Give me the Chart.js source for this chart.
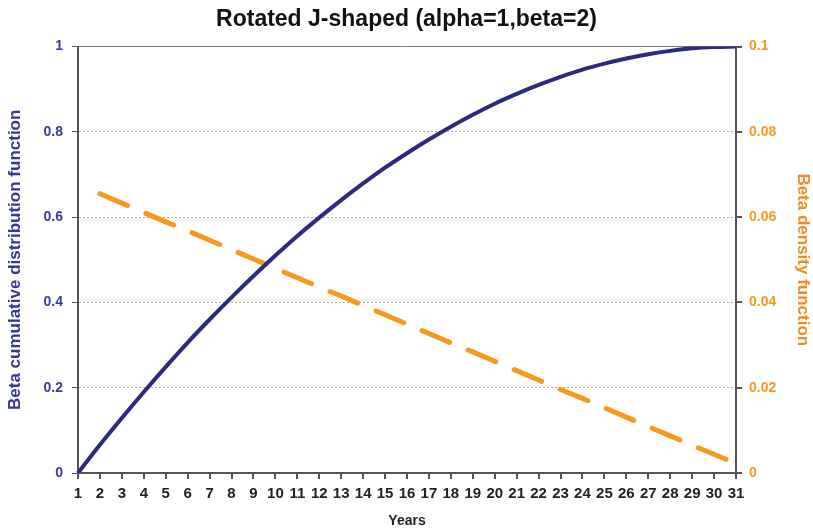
<!DOCTYPE html>
<html><head><meta charset="utf-8">
<script src="https://cdn.jsdelivr.net/npm/chart.js@4"></script>
<style>html,body{margin:0;padding:0;background:#fff}#wrap{width:813px;height:530px}</style>
</head><body><div id="wrap"><canvas id="c"></canvas></div>
<script>
const years = ["1","2","3","4","5","6","7","8","9","10","11","12","13","14","15","16","17","18","19","20","21","22","23","24","25","26","27","28","29","30","31"];
const cdfValues = [0,0.066,0.129,0.19,0.249,0.306,0.36,0.412,0.462,0.51,0.556,0.599,0.64,0.679,0.716,0.75,0.782,0.812,0.84,0.866,0.889,0.91,0.929,0.946,0.96,0.972,0.982,0.99,0.996,0.999,1];
const densityValues = [null,0.0655,0.0633,0.0611,0.0589,0.0568,0.0546,0.0524,0.0502,0.048,0.0458,0.0436,0.0415,0.0393,0.0371,0.0349,0.0327,0.0305,0.0284,0.0262,0.024,0.0218,0.0196,0.0175,0.0153,0.0131,0.0109,0.0087,0.0065,0.0044,0.0022];
const leftTicks = [0,0.2,0.4,0.6,0.8,1];
const rightTicks = [0,0.02,0.04,0.06,0.08,0.1];

const NAVY = '#2b2a80';
const ORANGE = '#f8991d';
const font = 'Arial, "Liberation Sans", sans-serif';

new Chart(document.getElementById('c'), {
  type: 'line',
  data: {
    labels: years,
    datasets: [
      {label:'CDF', data: cdfValues, yAxisID:'y', borderColor: NAVY, borderWidth: 4, pointRadius: 0, cubicInterpolationMode:'monotone', fill:false},
      {label:'Density', data: densityValues, yAxisID:'y1', borderColor: ORANGE, borderWidth: 5, borderDash:[30,20], borderCapStyle:'round', pointRadius: 0, fill:false, spanGaps:false}
    ]
  },
  options: {
    responsive: true, maintainAspectRatio: false, animation: false,
    layout: {padding: {top: 2, right: 0, bottom: 0, left: 0}},
    plugins: {
      legend: {display: false},
      tooltip: {enabled: false},
      title: {display: true, text: 'Rotated J-shaped (alpha=1,beta=2)', color: '#111',
        font: {family: font, size: 23, weight: 'bold'}, padding: {top: 4, bottom: 13}}
    },
    scales: {
      x: {
        offset: false,
        grid: {display: true, drawOnChartArea: false, drawTicks: true, tickLength: 6, color: '#555', lineWidth: 2},
        border: {display: true, color: '#555', width: 2},
        ticks: {color: '#222', font: {family: font, size: 15, weight: 'bold'}, maxRotation: 0, autoSkip: false, padding: 6},
        title: {display: true, text: 'Years', color: '#222', font: {family: font, size: 14, weight: 'bold'}, padding: {top: 4, bottom: 0}},
        afterFit: s => { s.height = 57; }
      },
      y: {
        position: 'left', min: 0, max: 1,
        afterBuildTicks: s => { s.ticks = leftTicks.map(v => ({value: v})); },
        grid: {color: c => c.tick && c.tick.value === 1 ? '#777' : '#aaa', lineWidth: 1, tickLength: 6, tickColor: '#555', drawTicks: true},
        border: {display: true, color: '#555', width: 2, dash: c => c.tick && c.tick.value === 1 ? [] : [2,2]},
        ticks: {color: '#3b3b9c', font: {family: font, size: 14, weight: 'bold'}, padding: 9,
          callback: v => String(v)},
        title: {display: true, text: 'Beta cumulative distribution function', color: '#35359a', font: {family: font, size: 17, weight: 'bold'}, padding: {top: 5, bottom: 4}},
        afterFit: s => { s.width = 78; }
      },
      y1: {
        position: 'right', min: 0, max: 0.1,
        afterBuildTicks: s => { s.ticks = rightTicks.map(v => ({value: v})); },
        grid: {drawOnChartArea: false, tickLength: 6, color: '#555', lineWidth: 2},
        border: {display: true, color: '#555', width: 2},
        ticks: {color: ORANGE, font: {family: font, size: 14, weight: 'bold'}, padding: 7,
          callback: v => String(v)},
        title: {display: true, text: 'Beta density function', color: '#f48a25', font: {family: font, size: 17, weight: 'bold'}, padding: {top: 0, bottom: 2}},
        afterFit: s => { s.width = 77; }
      }
    }
  }
});
</script></body></html>
